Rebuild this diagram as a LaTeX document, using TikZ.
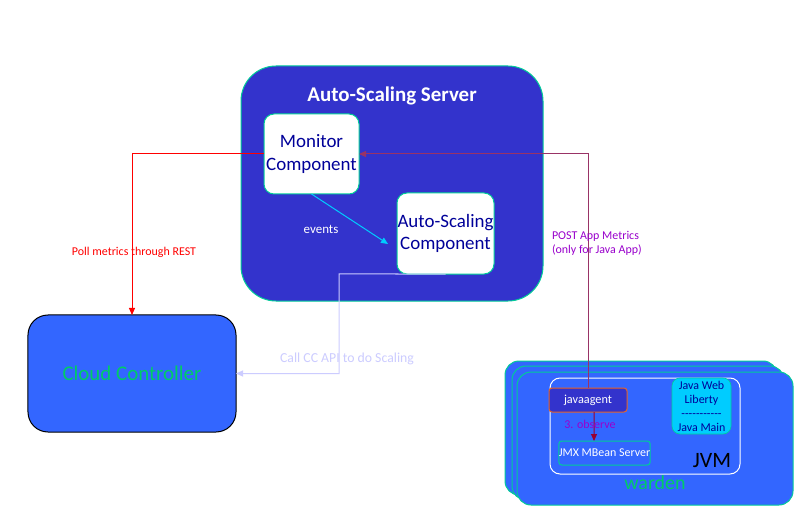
\documentclass[tikz,border=0pt]{standalone}
\usepackage{fontspec}
\setmainfont{Carlito}
\usetikzlibrary{arrows.meta}
\definecolor{serverfill}{RGB}{51,51,204}
\definecolor{tealb}{RGB}{0,204,153}
\definecolor{ccfill}{RGB}{51,102,255}
\definecolor{greentxt}{RGB}{0,204,102}
\definecolor{navytxt}{RGB}{0,0,153}
\definecolor{lav}{RGB}{204,204,255}
\definecolor{plum}{RGB}{153,51,102}
\definecolor{purptxt}{RGB}{153,0,204}
\definecolor{cyanarrow}{RGB}{0,204,255}
\definecolor{javafill}{RGB}{0,204,255}
\definecolor{orangeb}{RGB}{230,100,40}
\newcommand{\dsh}{-\kern0pt}
\tikzset{
  x=1bp, y=-1bp,
  every node/.style={inner sep=0pt, outer sep=0pt, align=center},
  tip/.style={-{Triangle[length=7bp,width=6bp]}},
  bigbox/.style={draw=tealb, fill=serverfill, rounded corners=35bp, line width=1bp},
  compbox/.style={draw=tealb, fill=white, rounded corners=10bp, line width=1bp, text=navytxt, font=\fontsize{19}{23}\selectfont},
  ccbox/.style={draw=black, fill=ccfill, rounded corners=20bp, line width=1bp, text=greentxt, font=\fontsize{21}{25}\selectfont},
  wardenbox/.style={draw=tealb, fill=ccfill, rounded corners=14bp, line width=1bp},
  lbl/.style={font=\fontsize{12}{14}\selectfont},
}
\begin{document}
\begin{tikzpicture}
\useasboundingbox[fill=white] (0,0) rectangle (808,525);
% Auto-Scaling Server
\node[bigbox, minimum width=302bp, minimum height=235bp] (srv) at (392,183.5) {};
\node[text=white, font=\bfseries\fontsize{21}{25}\selectfont] (srvt) at (392,96) {Auto-Scaling Server};
\node[compbox, minimum width=95bp, minimum height=80bp] (mon) at (311.5,154) {Monitor\\Component};
\node[compbox, minimum width=97bp, minimum height=81bp, font=\fontsize{19}{22}\selectfont] (asc) at (445.5,233.5) {Auto-Scaling\\Component};
% Cloud Controller
\node[ccbox, minimum width=208bp, minimum height=117bp] (cc) at (132,373.5) {Cloud Controller};
% warden stack
\node[wardenbox, minimum width=272bp, minimum height=134bp] (w1) at (641,428) {};
\node[wardenbox, minimum width=272bp, minimum height=134bp] (w2) at (648,433) {};
\node[wardenbox, minimum width=276bp, minimum height=133bp] (w3) at (655,438.5) {};
\node[text=greentxt, font=\fontsize{20}{24}\selectfont] (wt) at (655,483) {warden};
% JVM
\node[draw=white, rounded corners=10bp, line width=1bp, minimum width=190bp, minimum height=96bp] (jvm) at (645,426) {};
\node[font=\fontsize{22}{26}\selectfont] (jvmt) at (712,461) {JVM};
\node[draw=orangeb, fill=serverfill, rounded corners=3bp, line width=1bp, minimum width=78bp, minimum height=24bp, text=white, font=\fontsize{12.3}{14}\selectfont] (ja) at (588,400) {javaagent};
\node[draw=tealb, rounded corners=3bp, line width=1bp, minimum width=85bp, minimum height=24bp, text=white, font=\fontsize{12}{14}\selectfont] (jmx) at (604.5,453) {JMX MBean Server};
\node[draw=tealb, fill=javafill, rounded corners=8bp, line width=0.6bp, minimum width=59bp, minimum height=56bp, text=navytxt, font=\fontsize{12}{14}\selectfont] (jw) at (701.5,406) {Java Web\\Liberty\\\dsh\dsh\dsh\dsh\dsh\dsh\dsh\dsh\dsh\dsh\dsh\\Java Main};
% connectors
\coordinate (b1) at (339,274);
\coordinate (ev) at (388,244);
\draw[red, line width=1bp, tip] (mon.west) -| (cc.north);
\node[lbl, text=red] (l1) at (134,252) {Poll metrics through REST};
\draw[lav, line width=1bp, tip] (asc.south) -- (b1) |- (cc.east);
\node[text=lav, font=\fontsize{13.8}{16}\selectfont] (l2) at (347,359) {Call CC API to do Scaling};
\draw[plum, line width=1bp, tip] (ja.north) |- (mon.east);
\node[lbl, text=purptxt, align=left, anchor=west] (l3) at (552,243) {POST App Metrics\\(only for Java App)};
\draw[cyanarrow, line width=1bp, tip] (mon.south) -- (ev);
\node[text=white, font=\fontsize{13}{15}\selectfont] (l4) at (321,229) {events};
\draw[purple!80!black, line width=1bp, tip] ([xshift=6bp]ja.south) -- ([xshift=-10.5bp]jmx.north);
\node[text=purptxt, font=\fontsize{12}{14}\selectfont] (l5) at (590,424) {3. observe};
\end{tikzpicture}
\end{document}
